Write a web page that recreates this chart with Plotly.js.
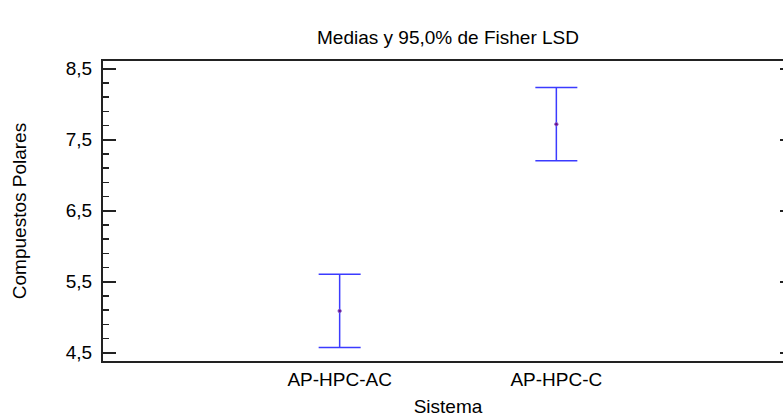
<!DOCTYPE html>
<html>
<head>
<meta charset="utf-8">
<script src="https://cdn.plot.ly/plotly-3.0.1.min.js"></script>
<style>
html, body { margin: 0; padding: 0; overflow: hidden; background: #fff; }
#chart { width: 800px; height: 417px; }
</style>
</head>
<body>
<div id="chart"></div>
<script>
// Data
const categories = ["AP-HPC-AC", "AP-HPC-C"];
const means = [5.09, 7.72];
const lsdHalfWidth = [0.516, 0.516];
const yTickValues = [4.5, 5.5, 6.5, 7.5, 8.5];
const yTickLabels = ["4,5", "5,5", "6,5", "7,5", "8,5"];

const font = { family: "Liberation Sans, Arial, sans-serif", size: 19, color: "#000" };

const trace = {
  type: "scatter",
  mode: "markers",
  x: categories,
  y: means,
  marker: { size: 3.5, color: "#6a0a8a", line: { color: "#8a6ad0", width: 0.8 } },
  error_y: {
    type: "data",
    array: lsdHalfWidth,
    symmetric: true,
    color: "#3b3bff",
    thickness: 1.5,
    width: 21
  },
  hoverinfo: "skip",
  showlegend: false
};

const layout = {
  width: 800,
  height: 417,
  margin: { l: 103, r: 7, t: 61, b: 56 },
  paper_bgcolor: "#fff",
  plot_bgcolor: "#fff",
  font: font,
  title: {
    text: "Medias y 95,0% de Fisher LSD",
    font: font,
    x: 0.5, xanchor: "center", xref: "paper",
    y: 1 - 37 / 417, yanchor: "middle", yref: "container"
  },
  xaxis: {
    type: "category",
    range: [-1.092, 2.092],
    showgrid: false,
    zeroline: false,
    showline: true,
    linecolor: "#222",
    linewidth: 2,
    mirror: true,
    ticks: "",
    tickfont: font,
    title: { text: "Sistema", font: font, standoff: 12 }
  },
  yaxis: {
    range: [4.385, 8.61],
    showgrid: false,
    zeroline: false,
    showline: true,
    linecolor: "#222",
    linewidth: 2,
    ticks: "inside",
    ticklen: 13,
    tickwidth: 1.5,
    tickcolor: "#222",
    tickmode: "array",
    tickvals: yTickValues,
    ticktext: yTickLabels,
    tickfont: font,
    ticklabelstandoff: 5,
    minor: { dtick: 0.2, tick0: 4.5, ticks: "inside", ticklen: 6, tickwidth: 1.5, tickcolor: "#222" },
    title: { text: "Compuestos Polares", font: font, standoff: 34 }
  },
  yaxis2: {
    overlaying: "y",
    side: "right",
    range: [4.385, 8.61],
    showgrid: false,
    zeroline: false,
    showline: true,
    linecolor: "#222",
    linewidth: 2,
    ticks: "inside",
    ticklen: 13,
    tickwidth: 1.5,
    tickcolor: "#222",
    tickmode: "array",
    tickvals: yTickValues,
    showticklabels: false
  }
};

const dummy = { type: "scatter", x: [], y: [], yaxis: "y2", showlegend: false, hoverinfo: "skip" };

Plotly.newPlot("chart", [trace, dummy], layout, { displayModeBar: false, staticPlot: true });
</script>
</body>
</html>
